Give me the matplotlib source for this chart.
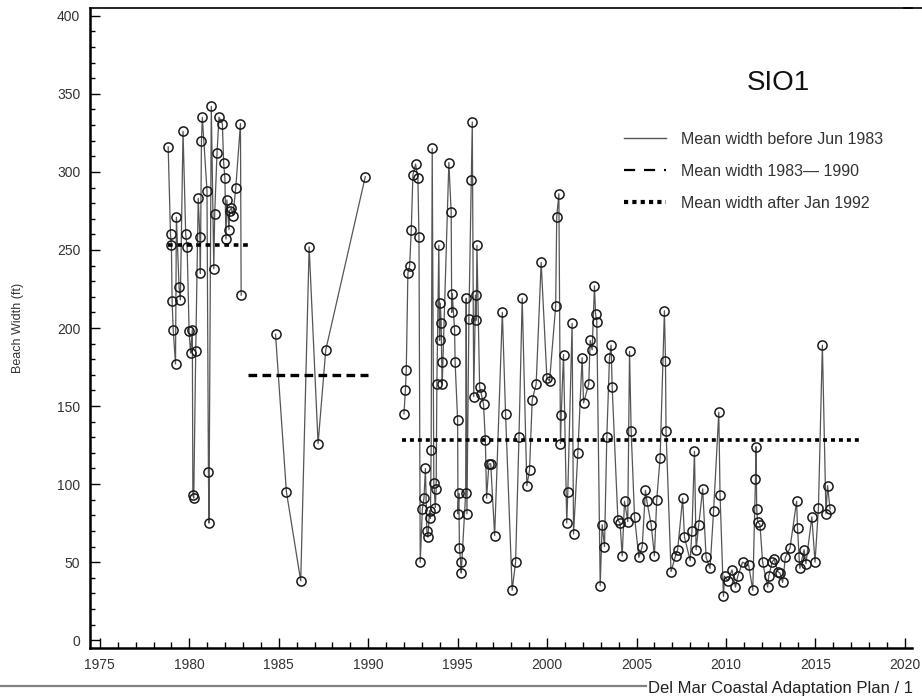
import numpy as np
import matplotlib
matplotlib.use("Agg")
import matplotlib.pyplot as plt
from matplotlib.lines import Line2D
from matplotlib.ticker import MultipleLocator

plt.rcParams['font.family'] = ['Liberation Sans', 'DejaVu Sans']

# survey record 1978-1983
yr_early = [1978.82, 1978.95, 1979.00, 1979.04, 1979.10, 1979.23, 1979.28, 1979.43,
            1979.50, 1979.65, 1979.80, 1979.88, 1979.99, 1980.07, 1980.17, 1980.20,
            1980.25, 1980.36, 1980.50, 1980.59, 1980.62, 1980.68, 1980.73, 1980.99,
            1981.07, 1981.10, 1981.23, 1981.37, 1981.42, 1981.55, 1981.66, 1981.85,
            1981.92, 1981.99, 1982.05, 1982.10, 1982.22, 1982.25, 1982.35, 1982.44,
            1982.60, 1982.86, 1982.90]
w_early = [316, 260, 253, 217, 199, 177, 271, 226,
           218, 326, 260, 252, 198, 184, 199, 93,
           91, 185, 283, 258, 235, 320, 335, 288,
           108, 75, 342, 238, 273, 312, 335, 331,
           306, 296, 257, 282, 263, 275, 277, 272,
           290, 331, 221]

# sparse surveys 1984-1990
yr_mid = [1984.82, 1985.43, 1986.23, 1986.70, 1987.20, 1987.63, 1989.84]
w_mid = [196, 95, 38, 252, 126, 186, 297]

# record after Jan 1992
yr_late = [1992.00, 1992.08, 1992.13, 1992.22, 1992.32, 1992.41, 1992.50, 1992.65,
           1992.78, 1992.84, 1992.91, 1993.03, 1993.12, 1993.20, 1993.28, 1993.34,
           1993.43, 1993.48, 1993.52, 1993.58, 1993.67, 1993.75, 1993.80, 1993.84,
           1993.95, 1993.99, 1994.03, 1994.08, 1994.11, 1994.14, 1994.51, 1994.64,
           1994.67, 1994.70, 1994.83, 1994.86, 1995.00, 1995.02, 1995.07, 1995.10,
           1995.17, 1995.20, 1995.45, 1995.48, 1995.52, 1995.63, 1995.76, 1995.82,
           1995.90, 1996.00, 1996.04, 1996.08, 1996.23, 1996.32, 1996.45, 1996.55,
           1996.62, 1996.75, 1996.85, 1997.07, 1997.50, 1997.68, 1998.05, 1998.24,
           1998.43, 1998.61, 1998.87, 1999.02, 1999.17, 1999.39, 1999.67, 1999.99,
           2000.14, 2000.48, 2000.54, 2000.66, 2000.75, 2000.79, 2000.92, 2001.10,
           2001.16, 2001.40, 2001.48, 2001.72, 2001.96, 2002.04, 2002.33, 2002.41,
           2002.52, 2002.65, 2002.71, 2002.78, 2002.97, 2003.08, 2003.21, 2003.34,
           2003.49, 2003.58, 2003.64, 2003.96, 2004.08, 2004.20, 2004.33, 2004.51,
           2004.61, 2004.70, 2004.89, 2005.13, 2005.32, 2005.50, 2005.58, 2005.82,
           2006.00, 2006.13, 2006.32, 2006.56, 2006.62, 2006.65, 2006.93, 2007.18,
           2007.30, 2007.58, 2007.68, 2008.00, 2008.10, 2008.24, 2008.33, 2008.48,
           2008.70, 2008.89, 2009.11, 2009.31, 2009.60, 2009.67, 2009.86, 2009.92,
           2010.10, 2010.34, 2010.53, 2010.66, 2010.93, 2011.27, 2011.50, 2011.65,
           2011.68, 2011.72, 2011.77, 2011.90, 2012.05, 2012.33, 2012.39, 2012.58,
           2012.70, 2012.89, 2013.02, 2013.17, 2013.32, 2013.58, 2013.95, 2014.00,
           2014.09, 2014.13, 2014.37, 2014.47, 2014.80, 2014.98, 2015.17, 2015.39,
           2015.59, 2015.68, 2015.82]
w_late = [145, 160, 173, 235, 240, 263, 298, 305,
          296, 258, 50, 84, 91, 110, 70, 66,
          83, 78, 122, 315, 101, 85, 97, 164,
          253, 192, 216, 203, 178, 164, 306, 274,
          210, 222, 199, 178, 141, 81, 94, 59,
          50, 43, 94, 219, 81, 206, 295, 332,
          156, 221, 205, 253, 162, 158, 151, 128,
          91, 113, 113, 67, 210, 145, 32, 50,
          130, 219, 99, 109, 154, 164, 242, 168,
          166, 214, 271, 286, 126, 144, 183, 75,
          95, 203, 68, 120, 181, 152, 164, 192,
          186, 227, 209, 204, 35, 74, 60, 130,
          181, 189, 162, 77, 75, 54, 89, 76,
          185, 134, 79, 53, 60, 96, 89, 74,
          54, 90, 117, 211, 179, 134, 44, 54,
          58, 91, 66, 51, 70, 121, 58, 74,
          97, 53, 46, 83, 146, 93, 28, 41,
          38, 45, 34, 41, 50, 48, 32, 103,
          124, 84, 76, 74, 50, 34, 41, 50,
          52, 44, 43, 37, 53, 59, 89, 72,
          53, 46, 58, 49, 79, 50, 85, 189,
          81, 99, 84]

# period means: (start, end, value)
mean_early = (1978.8, 1983.4, 253)
mean_mid = (1983.3, 1990.0, 170)
mean_late = (1991.9, 2017.6, 128)

fig = plt.figure(figsize=(9.22, 6.98), dpi=100)
ax = fig.add_axes([90 / 922, 50 / 698, 822 / 922, 640 / 698])

for yrs, ws in [(yr_early, w_early), (yr_mid, w_mid), (yr_late, w_late)]:
    ax.plot(yrs, ws, color='#555555', lw=0.9, marker='o', ms=6.6,
            mfc='none', mec='#1a1a1a', mew=1.1)

ax.plot(mean_early[:2], [mean_early[2]] * 2, color='black', lw=2.6,
        linestyle=(0, (1.3, 1.3)))
ax.plot(mean_mid[:2], [mean_mid[2]] * 2, color='black', lw=2.4,
        linestyle=(0, (2.6, 1.6)))
ax.plot(mean_late[:2], [mean_late[2]] * 2, color='black', lw=2.6,
        linestyle=(0, (1.1, 1.1)))

ax.set_xlim(1974.45, 2020.4)
ax.set_ylim(-5, 405)
ax.xaxis.set_major_locator(MultipleLocator(5))
ax.xaxis.set_minor_locator(MultipleLocator(1))
ax.yaxis.set_major_locator(MultipleLocator(50))
ax.yaxis.set_minor_locator(MultipleLocator(10))
ax.tick_params(which='both', direction='in', colors='black', labelcolor='#333333',
               labelsize=10, width=1)
ax.tick_params(which='major', length=7, pad=7)
ax.tick_params(which='minor', length=4)
ax.tick_params(axis='y', which='minor', length=3.5)
ax.set_xticks(np.arange(1975, 2021, 5))
ax.set_yticks(np.arange(0, 401, 50))

for side in ['left', 'bottom']:
    ax.spines[side].set_linewidth(1.8)
ax.spines['top'].set_linewidth(1.2)
ax.spines['right'].set_visible(False)

ax.set_ylabel('Beach Width (ft)', fontsize=9, color='#333333', labelpad=24)

ax.text(0.838, 0.883, 'SIO1', transform=ax.transAxes, fontsize=20,
        color='#111111', ha='center', va='center')

handles = [
    Line2D([], [], color='#555555', lw=1.0),
    Line2D([], [], color='black', lw=1.6, linestyle=(0, (5, 4))),
    Line2D([], [], color='black', lw=3.0, linestyle=(0, (1, 1))),
]
labels = ['Mean width before Jun 1983', 'Mean width 1983\u2014 1990',
          'Mean width after Jan 1992']
leg = ax.legend(handles, labels, loc='upper left',
                bbox_to_anchor=(624 / 922, 1 - 132 / 698),
                bbox_transform=fig.transFigure, frameon=False, fontsize=11.5,
                handlelength=2.6, handletextpad=0.95, labelspacing=1.05,
                borderpad=0, borderaxespad=0)
for t in leg.get_texts():
    t.set_color('#333333')

# top frame line runs on to the page edge
fig.add_artist(Line2D([0.98, 1.0], [690 / 698] * 2, color='black', lw=1.2,
                      transform=fig.transFigure))

# page footer
fig.add_artist(Line2D([0, 646 / 922], [1 - 686 / 698] * 2, color='#808080',
                      lw=1.6, transform=fig.transFigure))
fig.text(648 / 922, 1 - 688 / 698, 'Del Mar Coastal Adaptation Plan / 1',
         fontsize=12, color='#222222', ha='left', va='center')

fig.savefig('out.png', dpi=100)
